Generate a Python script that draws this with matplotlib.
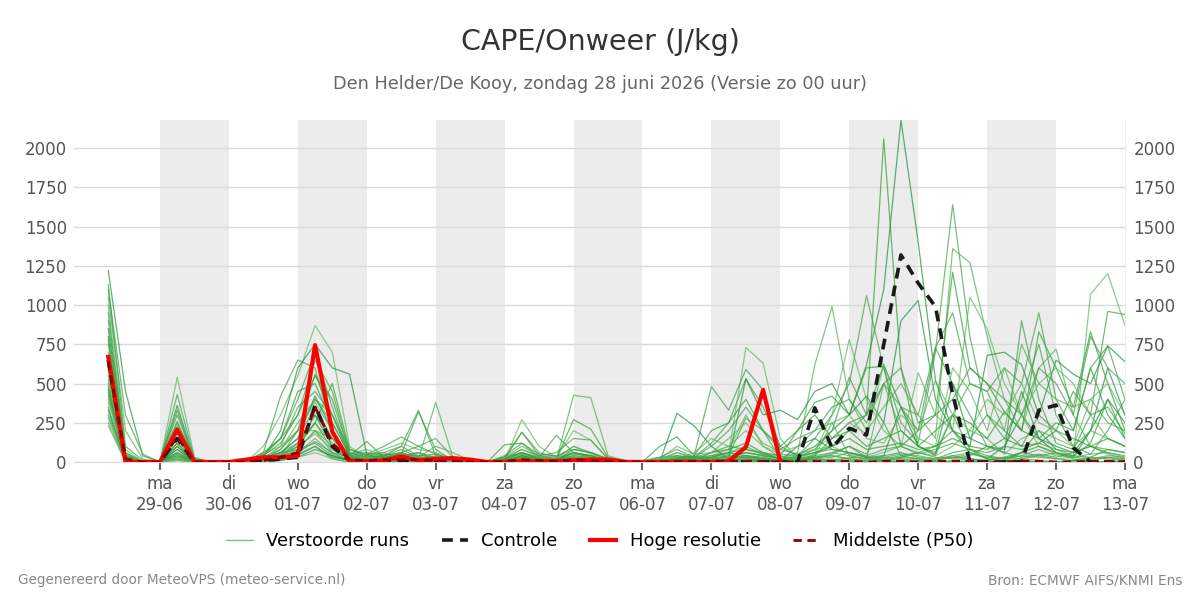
import matplotlib
matplotlib.use('Agg')
import matplotlib.pyplot as plt
import pandas as pd

# 6-hourly steps, first step 28-06 06 UTC
times = pd.date_range('2026-06-28 06:00', periods=60, freq='6h')

tick_days = pd.date_range('2026-06-29', '2026-07-13', freq='D')
tick_labels = ['ma\n29-06', 'di\n30-06', 'wo\n01-07', 'do\n02-07', 'vr\n03-07',
               'za\n04-07', 'zo\n05-07', 'ma\n06-07', 'di\n07-07', 'wo\n08-07',
               'do\n09-07', 'vr\n10-07', 'za\n11-07', 'zo\n12-07', 'ma\n13-07']
shade_days = ['2026-06-29', '2026-07-01', '2026-07-03', '2026-07-05',
              '2026-07-07', '2026-07-09', '2026-07-11']
yticks = [0, 250, 500, 750, 1000, 1250, 1500, 1750, 2000]

# perturbed ensemble members (CAPE, J/kg)
members = [
    [1220, 450, 40, 0, 120, 10, 0, 0, 0, 20, 60, 150,
     420, 200, 30, 10, 10, 30, 60, 10, 5, 0, 0, 10,
     40, 20, 10, 30, 20, 5, 0, 0, 10, 20, 30, 40,
     60, 40, 20, 10, 30, 80, 200, 300, 620, 1100, 2180, 1400,
     520, 200, 60, 20, 100, 300, 150, 60, 30, 200, 600, 300],
    [1130, 100, 10, 0, 60, 0, 0, 0, 10, 30, 80, 200,
     560, 300, 40, 10, 20, 60, 20, 10, 0, 0, 0, 20,
     80, 40, 20, 60, 40, 10, 0, 0, 5, 30, 10, 60,
     100, 80, 60, 20, 10, 40, 150, 250, 300, 2060, 600, 100,
     40, 300, 80, 20, 10, 60, 200, 80, 40, 120, 400, 150],
    [900, 50, 0, 0, 200, 20, 0, 0, 0, 50, 150, 300,
     650, 450, 60, 20, 40, 100, 330, 40, 10, 0, 0, 30,
     190, 60, 30, 100, 60, 10, 0, 0, 20, 60, 30, 120,
     250, 530, 350, 100, 40, 150, 300, 500, 1060, 600, 250, 120,
     700, 1640, 800, 300, 150, 400, 750, 300, 100, 50, 200, 400],
    [1050, 200, 20, 0, 100, 0, 0, 0, 0, 10, 40, 100,
     300, 150, 30, 10, 10, 40, 20, 380, 30, 0, 0, 10,
     30, 20, 10, 425, 410, 40, 10, 0, 10, 10, 20, 40,
     80, 300, 100, 30, 60, 620, 990, 400, 200, 350, 500, 300,
     150, 1360, 1270, 800, 400, 200, 600, 720, 300, 100, 50, 20],
    [1000, 80, 0, 0, 540, 30, 0, 0, 0, 100, 300, 550,
     870, 700, 100, 20, 10, 30, 10, 5, 0, 0, 0, 10,
     270, 100, 30, 200, 140, 20, 10, 0, 10, 60, 20, 30,
     50, 730, 630, 150, 20, 60, 300, 780, 400, 200, 100, 570,
     300, 200, 1050, 850, 500, 300, 100, 50, 30, 1070, 1200, 870],
    [950, 60, 0, 0, 430, 20, 0, 0, 10, 60, 420, 650,
     600, 200, 30, 10, 20, 50, 320, 80, 10, 0, 0, 20,
     50, 30, 170, 60, 30, 10, 0, 0, 0, 20, 40, 480,
     330, 590, 460, 80, 50, 100, 200, 540, 300, 620, 350, 200,
     730, 500, 300, 100, 60, 900, 400, 120, 80, 300, 960, 940],
    [850, 40, 0, 0, 360, 10, 0, 0, 0, 30, 200, 600,
     750, 600, 560, 50, 20, 10, 20, 10, 0, 0, 0, 0,
     10, 10, 20, 30, 20, 10, 0, 0, 0, 310, 230, 100,
     20, 530, 300, 330, 270, 450, 500, 300, 420, 250, 900, 1030,
     400, 200, 100, 680, 700, 620, 300, 650, 560, 500, 740, 640],
    [800, 30, 0, 0, 330, 0, 0, 0, 0, 40, 150, 450,
     500, 250, 40, 130, 30, 40, 20, 10, 5, 0, 0, 110,
     120, 30, 20, 270, 210, 30, 10, 0, 100, 160, 40, 200,
     250, 400, 200, 100, 200, 380, 420, 300, 600, 610, 100, 200,
     300, 1210, 600, 500, 320, 200, 830, 600, 350, 830, 500, 200],
    [780, 20, 0, 0, 300, 10, 0, 0, 0, 20, 100, 350,
     450, 300, 80, 50, 100, 160, 100, 150, 30, 0, 0, 20,
     190, 40, 60, 150, 140, 20, 0, 0, 0, 20, 30, 20,
     40, 280, 200, 20, 10, 50, 100, 200, 300, 500, 350, 300,
     730, 950, 500, 450, 600, 500, 950, 400, 200, 600, 740, 400],
    [750, 60, 0, 0, 260, 0, 0, 0, 0, 10, 80, 250,
     400, 300, 50, 80, 40, 60, 30, 100, 60, 10, 0, 30,
     100, 40, 30, 60, 30, 20, 10, 10, 30, 40, 20, 30,
     60, 100, 50, 40, 20, 40, 250, 40, 20, 500, 200, 100,
     60, 300, 500, 450, 200, 750, 500, 400, 350, 400, 250, 200],
    [700, 30, 0, 0, 230, 0, 0, 0, 10, 50, 100, 200,
     380, 200, 30, 40, 60, 20, 30, 20, 10, 0, 0, 10,
     60, 20, 10, 30, 20, 10, 0, 0, 10, 20, 60, 150,
     100, 200, 100, 50, 40, 100, 150, 250, 180, 620, 350, 150,
     100, 600, 450, 200, 600, 300, 500, 600, 500, 300, 150, 100],
    [650, 20, 0, 0, 200, 0, 0, 0, 0, 30, 60, 150,
     350, 150, 40, 30, 50, 40, 60, 30, 20, 0, 0, 30,
     60, 30, 20, 50, 40, 10, 0, 0, 0, 10, 20, 20,
     30, 60, 40, 20, 10, 30, 60, 100, 50, 250, 40, 60,
     100, 200, 150, 300, 200, 100, 300, 200, 450, 300, 350, 180],
    [600, 40, 0, 0, 180, 0, 0, 0, 0, 20, 40, 120,
     300, 100, 20, 10, 20, 10, 10, 5, 0, 0, 0, 0,
     40, 10, 10, 20, 10, 0, 0, 0, 0, 10, 10, 10,
     20, 40, 30, 10, 100, 150, 80, 60, 30, 40, 350, 100,
     50, 500, 150, 100, 80, 450, 150, 100, 60, 200, 400, 250],
    [580, 20, 0, 0, 150, 0, 0, 0, 0, 10, 30, 100,
     250, 80, 20, 10, 10, 10, 20, 10, 0, 0, 0, 10,
     20, 10, 10, 20, 10, 0, 0, 0, 0, 20, 10, 10,
     20, 30, 20, 10, 10, 30, 40, 20, 10, 40, 60, 30,
     20, 60, 80, 40, 20, 60, 100, 60, 40, 30, 80, 60],
    [550, 10, 0, 0, 120, 0, 0, 0, 0, 20, 60, 80,
     200, 60, 10, 20, 30, 20, 10, 20, 10, 0, 0, 0,
     20, 10, 0, 10, 10, 0, 0, 0, 0, 10, 0, 10,
     10, 20, 10, 0, 10, 20, 10, 30, 20, 10, 30, 20,
     10, 40, 20, 10, 30, 20, 40, 60, 20, 10, 30, 20],
    [520, 0, 0, 0, 100, 0, 0, 0, 0, 0, 20, 60,
     150, 50, 10, 10, 20, 10, 0, 0, 0, 0, 0, 0,
     10, 0, 0, 10, 0, 0, 0, 0, 0, 0, 0, 0,
     0, 10, 10, 0, 0, 10, 20, 10, 0, 10, 20, 0,
     0, 10, 20, 0, 10, 20, 10, 0, 10, 20, 30, 10],
    [500, 30, 0, 0, 80, 0, 0, 0, 0, 20, 40, 100,
     180, 80, 20, 30, 10, 30, 20, 40, 20, 0, 0, 20,
     50, 20, 10, 40, 30, 10, 0, 0, 20, 40, 20, 30,
     30, 60, 40, 30, 50, 80, 100, 50, 30, 60, 100, 60,
     40, 100, 200, 150, 50, 150, 200, 150, 100, 200, 150, 100],
    [480, 10, 0, 0, 60, 0, 0, 0, 0, 10, 30, 80,
     120, 40, 10, 10, 30, 20, 10, 10, 0, 0, 0, 10,
     30, 10, 10, 20, 10, 0, 0, 0, 0, 0, 10, 10,
     10, 20, 10, 20, 10, 20, 50, 100, 30, 10, 30, 60,
     30, 20, 40, 100, 60, 30, 50, 30, 60, 100, 60, 40],
    [460, 0, 0, 0, 40, 0, 0, 0, 0, 0, 10, 50,
     100, 30, 10, 0, 10, 0, 0, 0, 0, 0, 0, 0,
     0, 0, 0, 10, 10, 0, 0, 0, 0, 0, 0, 0,
     0, 0, 10, 0, 0, 0, 10, 0, 0, 10, 0, 0,
     0, 0, 10, 0, 0, 10, 0, 0, 10, 0, 0, 10],
    [440, 20, 0, 0, 30, 0, 0, 0, 10, 40, 120, 300,
     550, 400, 60, 30, 40, 60, 100, 50, 20, 0, 0, 20,
     60, 20, 10, 80, 60, 20, 0, 0, 10, 40, 30, 60,
     80, 120, 60, 40, 200, 300, 150, 200, 100, 150, 200, 100,
     200, 300, 250, 150, 320, 200, 150, 250, 200, 600, 300, 150],
    [420, 10, 0, 0, 20, 0, 0, 0, 0, 10, 20, 40,
     100, 20, 0, 10, 0, 10, 0, 0, 0, 0, 0, 0,
     0, 0, 0, 0, 0, 0, 0, 0, 0, 0, 0, 0,
     0, 0, 0, 0, 0, 10, 0, 0, 0, 0, 10, 0,
     0, 0, 0, 10, 0, 0, 0, 0, 0, 0, 0, 0],
    [400, 0, 0, 0, 10, 0, 0, 0, 0, 20, 50, 100,
     250, 120, 30, 20, 30, 50, 30, 20, 10, 0, 0, 10,
     20, 10, 10, 30, 20, 10, 0, 0, 0, 20, 10, 20,
     30, 40, 20, 10, 20, 40, 60, 40, 20, 30, 50, 40,
     20, 40, 60, 30, 20, 40, 80, 40, 30, 50, 60, 30],
    [380, 50, 0, 0, 150, 10, 0, 0, 0, 30, 80, 200,
     200, 100, 20, 40, 80, 120, 80, 60, 20, 0, 0, 30,
     80, 30, 20, 100, 50, 10, 0, 0, 20, 100, 50, 60,
     150, 250, 120, 60, 100, 200, 250, 300, 150, 120, 300, 200,
     520, 300, 200, 400, 300, 500, 250, 200, 100, 400, 500, 300],
    [350, 10, 0, 0, 100, 0, 0, 0, 0, 10, 20, 60,
     130, 60, 30, 20, 20, 10, 10, 10, 0, 0, 0, 0,
     30, 10, 0, 20, 10, 0, 0, 0, 0, 10, 0, 10,
     20, 30, 20, 10, 10, 20, 30, 60, 30, 20, 40, 20,
     10, 30, 20, 10, 30, 60, 40, 20, 10, 30, 20, 10],
    [330, 0, 0, 0, 80, 0, 0, 0, 0, 0, 10, 30,
     80, 40, 10, 10, 10, 0, 10, 0, 0, 0, 0, 0,
     0, 0, 0, 10, 0, 0, 0, 0, 0, 0, 0, 0,
     0, 10, 0, 0, 0, 0, 10, 0, 0, 0, 0, 10,
     0, 0, 0, 0, 10, 0, 0, 0, 10, 0, 0, 0],
    [300, 20, 0, 0, 50, 0, 0, 0, 0, 20, 60, 120,
     250, 500, 80, 40, 30, 50, 40, 30, 10, 0, 0, 10,
     40, 20, 10, 60, 40, 10, 0, 0, 0, 20, 20, 30,
     60, 80, 50, 20, 40, 60, 100, 150, 80, 100, 120, 80,
     100, 150, 100, 80, 150, 100, 120, 200, 150, 100, 150, 100],
    [280, 0, 0, 0, 40, 0, 0, 0, 0, 10, 40, 200,
     400, 250, 50, 60, 40, 80, 30, 20, 10, 0, 0, 20,
     60, 20, 20, 40, 30, 10, 0, 0, 0, 30, 20, 20,
     40, 60, 40, 20, 30, 60, 80, 60, 40, 80, 100, 50,
     80, 120, 80, 60, 100, 80, 120, 80, 60, 100, 80, 60],
    [250, 0, 0, 0, 20, 0, 0, 0, 0, 0, 20, 80,
     200, 150, 20, 20, 10, 20, 10, 10, 0, 0, 0, 10,
     20, 10, 10, 20, 10, 0, 0, 0, 0, 10, 10, 10,
     10, 20, 20, 10, 20, 30, 40, 20, 10, 30, 20, 10,
     20, 30, 50, 30, 20, 40, 30, 20, 30, 20, 40, 30],
    [230, 0, 0, 0, 10, 0, 0, 0, 0, 0, 10, 30,
     60, 20, 0, 0, 0, 0, 0, 0, 0, 0, 0, 0,
     0, 0, 0, 0, 0, 0, 0, 0, 0, 0, 0, 0,
     0, 0, 0, 0, 0, 0, 0, 0, 0, 0, 0, 0,
     0, 0, 0, 0, 0, 0, 0, 0, 0, 0, 0, 0],
    [1100, 300, 50, 0, 250, 20, 0, 0, 0, 60, 150, 400,
     700, 350, 40, 50, 60, 100, 40, 50, 10, 0, 0, 40,
     120, 50, 40, 80, 60, 20, 0, 0, 30, 80, 30, 100,
     200, 350, 200, 80, 150, 200, 350, 400, 250, 500, 600, 250,
     300, 400, 600, 500, 400, 300, 600, 500, 300, 800, 600, 500],
]

control = [650, 0, 0, 0, 150, 0, 0, 0, 0, 10, 20, 30,
           360, 100, 10, 5, 5, 10, 5, 10, 5, 0, 0, 0,
           5, 0, 0, 10, 5, 0, 0, 0, 0, 0, 0, 0,
           0, 0, 0, 0, 0, 345, 90, 215, 172, 750, 1320, 1140,
           990, 430, 0, 0, 0, 0, 330, 363, 90, 0, 0, 0]

# high resolution run only goes 10 days
hres = [670, 0, 0, 0, 208, 0, 0, 0, 15, 30, 30, 40,
        745, 193, 5, 5, 10, 35, 10, 20, 25, 15, 0, 0,
        5, 5, 5, 10, 15, 15, 0, 0, 0, 0, 0, 0,
        5, 95, 460, 0]

p50 = [640, 20, 0, 0, 160, 0, 0, 0, 0, 10, 30, 60,
       350, 120, 15, 10, 15, 15, 15, 10, 5, 0, 0, 5,
       15, 10, 5, 15, 10, 5, 0, 0, 0, 5, 5, 5,
       5, 5, 5, 0, 0, 5, 5, 5, 0, 5, 5, 0,
       5, 5, 5, 0, 0, 5, 5, 0, 0, 5, 5, 0]

greens = ['#1b8f3a', '#2ca02c', '#43a047', '#4caf50', '#5cb85c', '#3d9b4a']

fig = plt.figure(figsize=(12, 6), dpi=100)
ax = fig.add_axes([0.0615, 0.23, 0.876, 0.57])

for d in shade_days:
    start = pd.Timestamp(d)
    ax.axvspan(start, start + pd.Timedelta(days=1), color='#ececec', zorder=0, lw=0)

ax.grid(axis='y', color='#d9d9d9', lw=1, zorder=1)
ax.set_axisbelow(True)

for k, m in enumerate(members):
    ax.plot(times, m, color=greens[k % len(greens)], lw=0.9, alpha=0.7, zorder=2)

ax.plot(times, control, color='#1a1a1a', lw=2.6, ls=(0, (3, 2)), zorder=4)
ax.plot(times[:len(hres)], hres, color='#ff0000', lw=3, zorder=5)
ax.plot(times, p50, color='#8b0000', lw=2, ls=(0, (3, 2)), zorder=6)

ax.set_xlim(pd.Timestamp('2026-06-27 18:00'), pd.Timestamp('2026-07-13 00:00'))
ax.set_ylim(0, 2180)
ax.set_yticks(yticks)
ax.set_xticks(tick_days)
ax.set_xticklabels(tick_labels)
ax.tick_params(axis='x', colors='#666666', labelcolor='#555555', labelsize=12,
               length=6, width=1.5)
ax.tick_params(axis='y', length=0, labelcolor='#555555', labelsize=12, pad=5)
for s in ['top', 'left', 'right']:
    ax.spines[s].set_visible(False)
ax.spines['bottom'].set_color('#d9d9d9')

ax2 = ax.twinx()
ax2.set_ylim(0, 2180)
ax2.set_yticks(yticks)
ax2.tick_params(axis='y', length=0, labelcolor='#555555', labelsize=12, pad=6)
for s in ['top', 'left', 'bottom']:
    ax2.spines[s].set_visible(False)
ax2.spines['right'].set_color('#ececec')

fig.text(0.5, 0.93, 'CAPE/Onweer (J/kg)', ha='center', va='center',
         fontsize=20.5, color='#333333')
fig.text(0.5, 0.86, 'Den Helder/De Kooy, zondag 28 juni 2026 (Versie zo 00 uur)',
         ha='center', va='center', fontsize=12.7, color='#666666')

handles = [
    plt.Line2D([], [], color='#7cc47c', lw=1),
    plt.Line2D([], [], color='#1a1a1a', lw=2.6, ls=(0, (3, 2))),
    plt.Line2D([], [], color='#ff0000', lw=3),
    plt.Line2D([], [], color='#8b0000', lw=2, ls=(0, (3, 2))),
]
labels = ['Verstoorde runs', 'Controle', 'Hoge resolutie', 'Middelste (P50)']
fig.legend(handles, labels, loc='center', bbox_to_anchor=(0.5, 0.098), ncol=4,
           frameon=False, fontsize=13, handlelength=1.45, handletextpad=0.75,
           columnspacing=1.8)

fig.text(0.015, 0.033, 'Gegenereerd door MeteoVPS (meteo-service.nl)',
         ha='left', va='center', fontsize=9.8, color='#888888')
fig.text(0.985, 0.033, 'Bron: ECMWF AIFS/KNMI Ens',
         ha='right', va='center', fontsize=9.8, color='#888888')

fig.savefig('out.png', dpi=100)
